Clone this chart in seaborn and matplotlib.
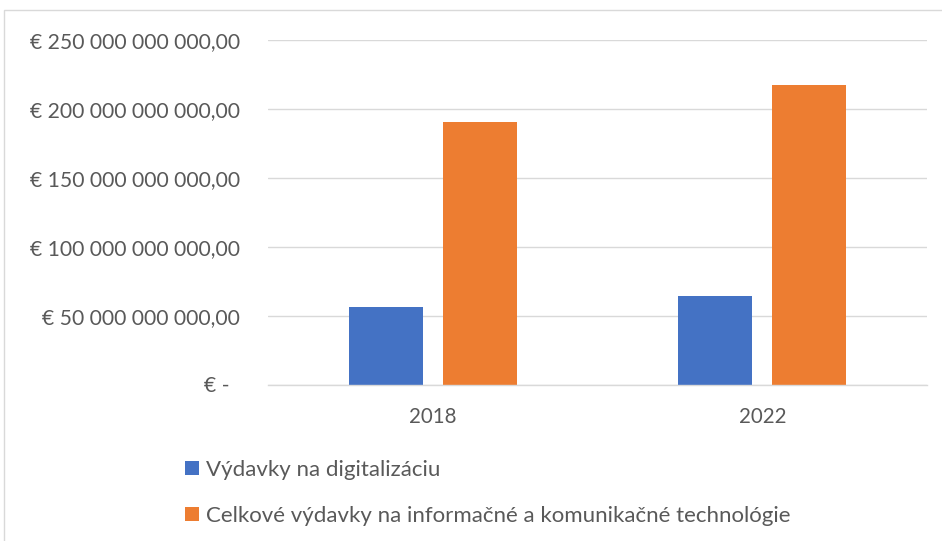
import matplotlib
matplotlib.use("Agg")
import matplotlib.pyplot as plt
import matplotlib.patches as mpatches
import seaborn as sns
import pandas as pd

years = ["2018", "2022"]
series_names = ["Výdavky na digitalizáciu",
                "Celkové výdavky na informačné a komunikačné technológie"]
digital = [56.5e9, 64.4e9]
ict_total = [190.7e9, 217.1e9]
y_ticks = [0, 50e9, 100e9, 150e9, 200e9, 250e9]
y_tick_labels = ["€ -  ", "€ 50 000 000 000,00", "€ 100 000 000 000,00",
                 "€ 150 000 000 000,00", "€ 200 000 000 000,00", "€ 250 000 000 000,00"]
colors = ["#4472C4", "#ED7D31"]

df = pd.DataFrame({
    "year": years * 2,
    "series": [series_names[0]] * 2 + [series_names[1]] * 2,
    "value": digital + ict_total,
})

sns.set_theme(style="white")
plt.rcParams["font.family"] = ["Lato", "DejaVu Sans"]
text_color = "#595959"
grid_color = "#d9d9d9"

fig = plt.figure(figsize=(9.42, 5.41), dpi=100)
ax = fig.add_axes([268 / 942, 1 - 384.5 / 541, (927 - 268) / 942, (384.5 - 40) / 541])

sns.barplot(data=df, x="year", y="value", hue="series", order=years,
            hue_order=series_names, palette=colors, width=0.5705, gap=0.2125,
            saturation=1, ax=ax, legend=False, edgecolor="none")

ax.set_xlim(-0.5, 1.5)
ax.set_ylim(0, 250e9)
ax.set_yticks(y_ticks)
ax.set_yticklabels(y_tick_labels)
ax.set_xlabel("")
ax.set_ylabel("")
for s in ["top", "right", "left"]:
    ax.spines[s].set_visible(False)
ax.spines["bottom"].set_color(grid_color)
ax.spines["bottom"].set_linewidth(1.0)
ax.yaxis.grid(True, color=grid_color, linewidth=1.0)
ax.set_axisbelow(True)
ax.tick_params(axis="y", length=0, pad=20, labelsize=15.2, labelcolor=text_color)
ax.tick_params(axis="x", length=0, pad=16, labelsize=14.8, labelcolor=text_color)

handles = [mpatches.Patch(facecolor=c, edgecolor="none") for c in colors]
leg = fig.legend(handles, series_names, loc="upper left",
                 bbox_to_anchor=(185 / 942, 1 - 460 / 541), frameon=False,
                 fontsize=16, labelcolor=text_color, handlelength=0.63,
                 handleheight=0.63, handletextpad=0.3, labelspacing=1.16,
                 borderaxespad=0, borderpad=0)

frame = mpatches.Rectangle((4 / 942, -0.1), 1.2, (541 - 10) / 541 + 0.1,
                           transform=fig.transFigure, fill=False,
                           edgecolor=grid_color, linewidth=1.0)
fig.patches.append(frame)

fig.savefig("out.png", dpi=100)
